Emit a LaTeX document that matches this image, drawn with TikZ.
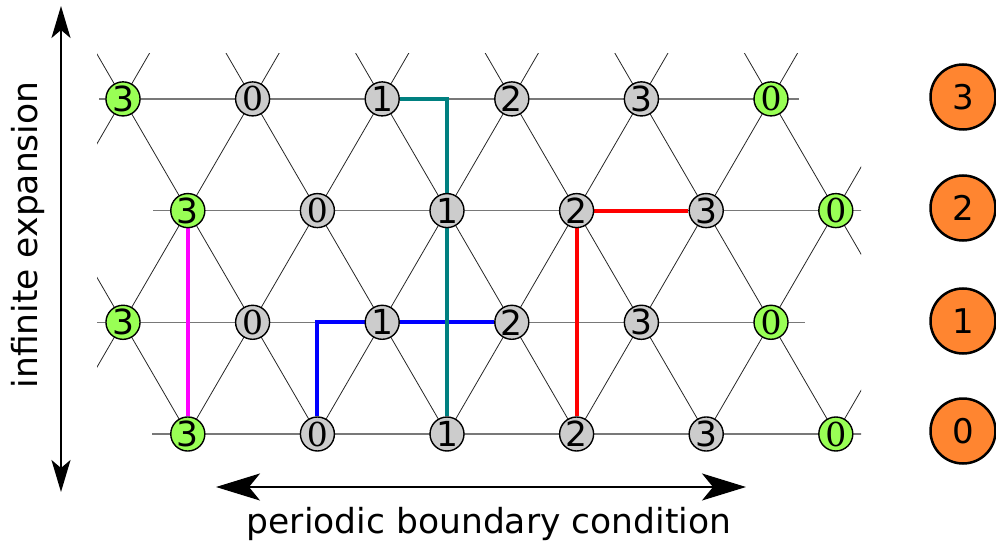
\documentclass[tikz,border=0pt]{standalone}
\usepackage{fontspec}
\setmainfont{DejaVu Sans}
\newfontfamily\zerofont{DejaVu Serif}
\usetikzlibrary{arrows.meta,backgrounds}
\definecolor{nodegray}{RGB}{204,204,204}
\definecolor{nodegreen}{RGB}{153,255,85}
\definecolor{orangefill}{RGB}{255,133,48}
\definecolor{hlinegray}{RGB}{120,120,120}
\definecolor{routemagenta}{RGB}{255,0,255}
\definecolor{routeblue}{RGB}{0,0,255}
\definecolor{routered}{RGB}{255,0,0}
\definecolor{routeteal}{RGB}{0,128,128}
\newcommand{\lmz}{{\zerofont\fontsize{33}{33}\selectfont 0}}
\begin{document}
\begin{tikzpicture}[x=1pt,y=-1pt,
  site/.style={circle,draw=black,line width=1.4pt,minimum size=34pt,inner sep=0pt,font=\fontsize{34.5}{34.5}\selectfont},
  graysite/.style={site,fill=nodegray},
  greensite/.style={site,fill=nodegreen},
  bigsite/.style={circle,draw=black,line width=2.5pt,minimum size=65pt,inner sep=0pt,fill=orangefill,font=\fontsize{34}{34}\selectfont},
  latt/.style={draw=black!85,line width=0.8pt},
  hline/.style={draw=hlinegray,line width=1.5pt},
  route/.style={line width=4pt},
  vhead/.tip={Stealth[length=32pt,width=19pt,inset=8pt]},
  hhead/.tip={Stealth[length=44pt,width=27pt,inset=11pt]},
  axis/.style={line width=2pt},
  caption/.style={font=\fontsize{34.5}{40}\selectfont,inner sep=0pt}
]
\useasboundingbox (0,0) rectangle (996,548);

% lattice positions
\foreach \r in {-1,...,4} {
  \foreach \u in {-2,...,14} {
    \coordinate (p\r x\u) at ({123+64.8*\u},{434-111.7*\r});
  }
}

% lattice sites
\foreach \r in {3,1} {
  \foreach \u/\t/\s in {0/3/greensite,2/\lmz/graysite,4/1/graysite,6/2/graysite,8/3/graysite,10/\lmz/greensite} {
    \node[\s] (n\r x\u) at (p\r x\u) {\t};
  }
}
\foreach \r in {2,0} {
  \foreach \u/\t/\s in {1/3/greensite,3/\lmz/graysite,5/1/graysite,7/2/graysite,9/3/graysite,11/\lmz/greensite} {
    \node[\s] (n\r x\u) at (p\r x\u) {\t};
  }
}

% orange legend circles
\node[bigsite] (o3) at (963,97) {3};
\node[bigsite] (o2) at (963,208) {2};
\node[bigsite] (o1) at (963,321) {1};
\node[bigsite] (o0) at (963,431) {0};

% lattice edges (clipped)
\begin{scope}[on background layer]
  \clip (97,54) rectangle (861,434);
  \foreach \r in {-1,...,3} {
    \foreach \u in {-1,...,13} {
      \pgfmathtruncatemacro\pty{\r+\u+10}
      \ifodd\pty
        \pgfmathtruncatemacro\ra{\r+1}
        \pgfmathtruncatemacro\ul{\u-1}
        \pgfmathtruncatemacro\ur{\u+1}
        \draw[latt] (p\r x\u) -- (p\ra x\ul) (p\r x\u) -- (p\ra x\ur);
      \fi
    }
  }
\end{scope}

% horizontal lines and routes
\coordinate (hl3) at (99,{434-111.7*3});
\coordinate (hr3) at (799,{434-111.7*3});
\coordinate (hl2) at (153,{434-111.7*2});
\coordinate (hr2) at (862,{434-111.7*2});
\coordinate (hl1) at (97,{434-111.7*1});
\coordinate (hr1) at (805,{434-111.7*1});
\coordinate (hl0) at (152,434);
\coordinate (hr0) at (862,434);
\begin{scope}[on background layer]
  \draw[hline] (hl3) -- (hr3);
  \draw[hline] (hl2) -- (hr2);
  \draw[hline] (hl1) -- (hr1);
  \draw[hline] (hl0) -- (hr0);
  \draw[route,routemagenta] (n2x1) -- (n0x1);
  \draw[route,routeblue] (n0x3) |- (n1x6);
  \draw[route,routered] (n0x7) |- (n2x9);
  \draw[route,routeteal] (n3x4) -| (n0x5);
\end{scope}

% axes
\coordinate (vt) at (61,6);
\coordinate (vb) at (61,492);
\draw[axis,{vhead}-{vhead}] (vt) -- (vb);
\coordinate (hlft) at (216,487);
\coordinate (hrgt) at (746,487);
\draw[axis,{hhead}-{hhead}] (hlft) -- (hrgt);

\node[caption,rotate=90,anchor=base] (lv) at (37,235) {infinite expansion};
\node[caption,anchor=base] (lh) at (489,533) {periodic boundary condition};
\end{tikzpicture}
\end{document}
